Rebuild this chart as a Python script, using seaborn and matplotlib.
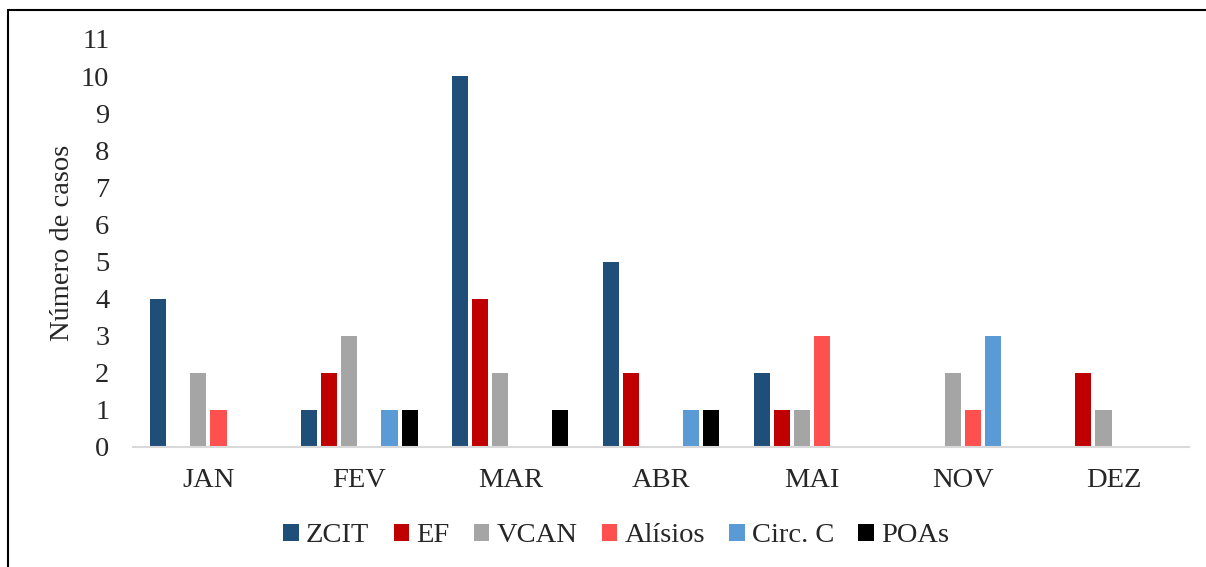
import pandas as pd
import seaborn as sns
import matplotlib.pyplot as plt
from matplotlib.lines import Line2D

months = ['JAN', 'FEV', 'MAR', 'ABR', 'MAI', 'NOV', 'DEZ']
series = ['ZCIT', 'EF', 'VCAN', 'Alísios', 'Circ. C', 'POAs']

zcit = [4, 1, 10, 5, 2, 0, 0]
ef = [0, 2, 4, 2, 1, 0, 2]
vcan = [2, 3, 2, 0, 1, 2, 1]
alisios = [1, 0, 0, 0, 3, 1, 0]
circ_c = [0, 1, 0, 1, 0, 3, 0]
poas = [0, 1, 1, 1, 0, 0, 0]

colors = ['#1F4E79', '#C00000', '#A5A5A5', '#FF5050', '#5B9BD5', '#000000']

values = [zcit, ef, vcan, alisios, circ_c, poas]
rows = []
for name, vals in zip(series, values):
    for m, v in zip(months, vals):
        rows.append({'mes': m, 'sistema': name, 'casos': v})
df = pd.DataFrame(rows)

sns.set_style('white')
plt.rcParams['font.family'] = ['Liberation Serif', 'DejaVu Serif']

fig = plt.figure(figsize=(12.06, 5.67), dpi=100)
ax = fig.add_axes([133 / 1206, 120 / 567, (1189 - 133) / 1206, (447 - 39) / 567])

sns.barplot(data=df, x='mes', y='casos', hue='sistema', order=months,
            hue_order=series, palette=colors, saturation=1, width=0.8, gap=0.2,
            linewidth=0, ax=ax, legend=True)

fs = 20.5
ax.set_ylim(0, 11)
ax.set_yticks(range(0, 12))
ax.set_xlim(-0.5, len(months) - 0.5)
ax.tick_params(axis='both', length=0, labelsize=fs)
ax.tick_params(axis='x', pad=15)
ax.tick_params(axis='y', pad=17)
ax.set_xlabel('')
ax.set_ylabel('Número de casos', fontsize=fs, labelpad=4)

for s in ['top', 'right', 'left']:
    ax.spines[s].set_visible(False)
ax.spines['bottom'].set_color('#D9D9D9')
ax.spines['bottom'].set_linewidth(1.5)

handles, labels = ax.get_legend_handles_labels()
ax.legend(handles, labels, loc='center', bbox_to_anchor=(0.511, 1 - 536 / 567),
          bbox_transform=fig.transFigure, ncol=6, frameon=False, fontsize=fs,
          handlelength=0.55, handleheight=0.55, handletextpad=0.25,
          columnspacing=0.85)

# outer frame (left and top edges visible)
fig.add_artist(Line2D([8 / 1206, 8 / 1206], [0, 1 - 10 / 567], color='black',
                      linewidth=1.5, transform=fig.transFigure))
fig.add_artist(Line2D([8 / 1206, 1], [1 - 10 / 567, 1 - 10 / 567], color='black',
                      linewidth=1.5, transform=fig.transFigure))

fig.savefig('out.png', dpi=100)
